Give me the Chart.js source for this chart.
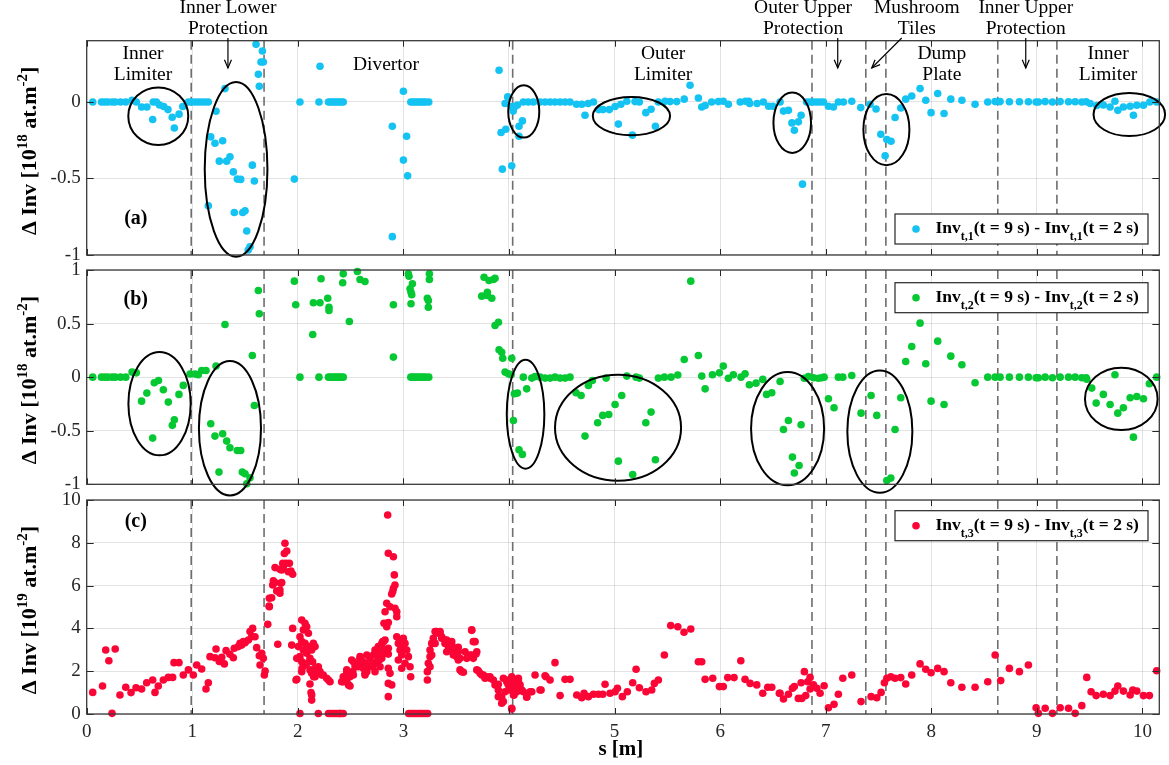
<!DOCTYPE html>
<html><head><meta charset="utf-8">
<script src="https://cdn.jsdelivr.net/npm/chart.js@4.4.1/dist/chart.umd.min.js"></script>
<style>
html,body{margin:0;padding:0;background:#fff;}
#wrap{position:relative;width:1169px;height:765px;background:#fff;overflow:hidden;}
canvas{position:absolute;left:0;top:0;}
</style></head><body>
<div id="wrap">
<canvas id="cA" width="1169" height="765"></canvas>
<canvas id="cB" width="1169" height="765"></canvas>
<canvas id="cC" width="1169" height="765"></canvas>
</div>
<script>
// ---------------- DATA ----------------
const S_MAX = 10.16;
const xTicks = [0,1,2,3,4,5,6,7,8,9,10];
const yTicksA = [-1,-0.5,0];
const yTicksB = [-1,-0.5,0,0.5,1];
const yTicksC = [0,2,4,6,8,10];
// component boundaries (s in m), dashed lines
const boundaries = [0.99,1.68,4.035,6.87,7.38,7.57,8.63,9.19];

// Panel (a): Inv_t,1(9 s) - Inv_t,1(2 s)  [s (m), 1e18 at/m2]
const inv1 = [[0.057,0],[0.14,0],[0.17,0],[0.2,0],[0.24,0],[0.27,0],[0.32,0],[0.37,0],[0.43,0.01],[0.47,0],
[0.52,-0.033],[0.57,-0.033],[0.63,0],[0.66,0],[0.625,-0.115],[0.69,-0.02],[0.73,-0.03],[0.77,-0.05],[0.81,-0.1],[0.83,-0.17],[0.875,-0.08],[0.91,-0.03],
[0.963,0],[0.995,0],[1.026,0],[1.057,0],[1.089,0],[1.12,0],[1.152,0],
[1.225,-0.061],[1.31,0.087],[1.175,-0.228],[1.215,-0.27],[1.288,-0.254],[1.256,-0.387],[1.326,-0.387],[1.357,-0.358],[1.389,-0.457],[1.427,-0.504],[1.459,-0.506],[1.569,-0.413],[1.588,-0.517],[1.152,-0.678],[1.398,-0.722],[1.478,-0.722],[1.5,-0.711],[1.516,-0.843],[1.547,-0.946],[1.53,-0.967],
[1.604,0.376],[1.664,0.333],[1.651,0.261],[1.673,0.261],[1.626,0.181],[1.635,0.102],
[1.967,-0.504],[2.02,0],[2.2,0],[2.21,0.233],[2.29,0],[2.31,0],[2.33,0],[2.35,0],[2.37,0],[2.39,0],[2.41,0],[2.43,0],
[2.895,-0.159],[2.895,-0.88],[3.0,0.07],[3.03,-0.224],[3.0,-0.38],[3.04,-0.483],
[3.07,0],[3.09,0],[3.11,0],[3.13,0],[3.15,0],[3.17,0],[3.19,0],[3.21,0],[3.24,0],
[3.906,0.207],[3.988,0.033],[3.963,-0.01],[4.026,-0.03],[4.057,-0.03],[4.08,-0.02],[4.04,-0.06],[4.127,-0.124],[4.095,-0.159],[4.095,-0.224],[3.925,-0.2],[3.97,-0.178],[3.937,-0.439],[4.026,-0.417],
[4.136,0],[4.183,0],[4.231,0],[4.294,0],[4.342,0],[4.389,0],[4.436,0],[4.484,0],[4.531,0],[4.578,0],
[4.64,-0.015],[4.69,-0.015],[4.72,-0.087],[4.75,-0.01],[4.8,0],[4.85,-0.05],[4.89,-0.05],[4.95,-0.05],[5.005,-0.03],[5.06,-0.015],[5.116,0.004],[5.194,0.002],[5.235,0],[5.036,-0.145],[5.169,-0.217],[5.296,-0.07],[5.346,-0.048],[5.387,-0.159],
[5.415,0],[5.478,0.004],[5.526,0.002],[5.589,0.002],[5.66,0.018],[5.715,0.109],[5.794,0.026],[5.826,-0.033],[5.858,-0.023],[5.92,0],[5.983,0.002],[6.03,0.004],[6.078,-0.015],[6.19,0],[6.24,0.004],[6.27,0.004],[6.28,-0.01],[6.35,-0.01],[6.41,0],[6.46,-0.028],[6.5,-0.028],
[6.568,0],[6.6,-0.06],[6.647,-0.055],[6.68,-0.137],[6.703,-0.185],[6.741,-0.13],[6.767,-0.087],[6.78,-0.537],
[6.82,0],[6.852,0],[6.884,0],[6.916,0],[6.947,0],[6.979,0],[7.026,-0.028],[7.073,-0.033],[7.12,0],[7.168,0],[7.247,0.004],[7.332,-0.037],[7.42,-0.015],[7.477,-0.046],[7.522,-0.211],[7.579,-0.245],[7.619,-0.257],[7.563,-0.352],[7.657,-0.102],[7.711,-0.04],[7.758,0.018],[7.815,0.039],[7.894,0.087],[7.948,0.011],[7.998,-0.07],[8.061,0.055],[8.121,-0.076],[8.185,0.018],[8.29,0.011],[8.415,-0.015],
[8.535,0],[8.605,0.002],[8.652,0.002],[8.74,0.001],[8.835,0.001],[8.92,0.001],[8.993,0],[9.015,0],[9.079,0.002],[9.148,0],[9.221,0.002],[9.3,0.001],[9.363,0.001],[9.426,0],[9.467,0.001],[9.505,-0.01],
[9.568,-0.023],[9.63,-0.02],[9.694,-0.033],[9.74,0.004],[9.767,-0.055],[9.82,-0.033],[9.884,-0.028],[9.915,-0.087],[9.947,-0.022],[10.01,-0.022],[10.07,0],[10.135,0]];

// Panel (b): Inv_t,2(9 s) - Inv_t,2(2 s)  [1e18 at/m2]
const inv2 = [[0.057,0],[0.14,0],[0.17,0],[0.2,0],[0.24,0],[0.27,0],[0.32,0],[0.37,0],[0.43,0.047],[0.47,0.04],[0.52,-0.224],[0.57,-0.149],[0.625,-0.569],[0.64,-0.052],[0.68,-0.031],[0.726,-0.118],[0.773,-0.233],[0.811,-0.45],[0.83,-0.398],[0.874,-0.161],[0.915,-0.077],
[0.979,0.03],[1.026,0.03],[1.057,0.022],[1.089,0.062],[1.13,0.062],[1.225,0.103],[1.31,0.492],[1.175,-0.435],[1.215,-0.55],[1.288,-0.528],[1.326,-0.597],[1.357,-0.659],[1.427,-0.684],[1.459,-0.684],[1.253,-0.886],[1.474,-0.886],[1.5,-0.902],[1.547,-0.94],[1.516,-0.995],[1.569,0.202],[1.588,-0.264],[1.626,0.809],[1.635,0.591],
[1.967,0.896],[1.98,0.675],[2.02,0],[2.141,0.398],[2.147,0.694],[2.21,0.694],[2.2,0],[2.22,0.918],[2.283,0.737],[2.295,0.653],[2.295,0.622],[2.29,0],[2.31,0],[2.33,0],[2.35,0],[2.37,0],[2.39,0],[2.41,0],[2.43,0],[2.43,0.964],[2.425,0.881],[2.488,0.52],[2.564,0.986],[2.589,0.911],[2.636,0.893],
[2.905,0.675],[2.905,0.187],[3.047,0.964],[3.053,0.942],[3.085,0.871],[3.063,0.824],[3.072,0.793],[3.079,0.769],[3.072,0.685],[3.07,0],[3.09,0],[3.11,0],[3.13,0],[3.15,0],[3.17,0],[3.19,0],[3.21,0],[3.24,0],[3.246,0.964],[3.246,0.911],[3.227,0.737],[3.236,0.716],[3.236,0.653],
[3.764,0.933],[3.811,0.902],[3.852,0.911],[3.868,0.923],[3.795,0.793],[3.742,0.756],[3.795,0.762],[3.837,0.737],[3.868,0.482],[3.9,0.513],[3.906,0.256],[3.931,0.233],[3.941,0.177],[4.026,0.177],[3.963,0.047],[3.994,0.031],[4.02,0.022],[4.051,-0.155],[4.08,-0.149],[4.042,-0.404],[4.095,-0.677],[4.127,-0.721],[4.168,-0.109],
[4.136,0],[4.216,-0.009],[4.247,0.005],[4.294,0],[4.342,-0.009],[4.389,-0.009],[4.436,0],[4.484,-0.009],[4.531,-0.009],[4.578,0],[4.635,-0.146],[4.683,-0.171],[4.72,-0.55],[4.752,-0.077],[4.79,-0.031],[4.84,-0.426],[4.888,-0.357],[4.945,-0.348],[4.92,-0.009],[5.005,-0.255],[5.068,-0.171],[5.036,-0.784],[5.116,0.01],[5.204,0],[5.235,-0.009],[5.172,-0.908],[5.296,-0.426],[5.346,-0.326],[5.387,-0.771],
[5.415,-0.009],[5.472,0],[5.535,0],[5.599,0.02],[5.66,0.165],[5.722,0.896],[5.794,0.202],[5.826,0.01],[5.858,-0.109],[5.927,0.022],[5.993,0.04],[6.03,0.103],[6.078,-0.01],[6.125,0.022],[6.198,0],[6.236,0.031],[6.277,-0.071],[6.34,-0.056],[6.404,-0.021],[6.44,-0.161],[6.489,-0.146],
[6.568,-0.04],[6.6,-0.488],[6.647,-0.404],[6.685,-0.746],[6.703,-0.895],[6.748,-0.824],[6.767,-0.444],[6.798,-0.01],[6.836,0.005],[6.884,-0.005],[6.931,-0.01],[6.963,-0.005],[6.985,0],[7.026,-0.202],[7.079,-0.286],[7.12,0],[7.162,0],[7.247,0.016],[7.335,-0.336],[7.43,-0.171],[7.484,-0.357],[7.579,-0.964],[7.617,-0.942],[7.657,-0.488],[7.711,-0.192],
[7.758,0.146],[7.815,0.286],[7.894,0.504],[7.948,0.125],[7.998,-0.224],[8.061,0.336],[8.121,-0.255],[8.185,0.196],[8.29,0.116],[8.415,-0.052],
[8.535,0],[8.605,0],[8.652,0],[8.74,0],[8.835,0],[8.92,0],[8.993,-0.005],[9.015,-0.005],[9.079,0],[9.148,-0.005],[9.221,0],[9.3,0],[9.363,0],[9.426,-0.005],[9.467,-0.005],[9.473,-0.02],[9.52,-0.102],[9.562,-0.242],[9.63,-0.161],[9.694,-0.255],[9.74,0.022],[9.767,-0.336],[9.82,-0.286],[9.884,-0.192],[9.947,-0.18],[10.01,-0.202],[9.915,-0.56],[10.066,-0.062],[10.135,0]];

// Panel (c): Inv_t,3(9 s) - Inv_t,3(2 s)  [1e19 at/m2]
const inv3 = [[0.057,1.01],[0.15,1.31],[0.18,2.99],[0.21,2.49],[0.24,0.03],[0.27,3.04],[0.315,0.89],[0.37,1.25],[0.42,1.0],[0.467,1.23],[0.52,1.17],[0.568,1.46],[0.625,1.59],[0.647,1.01],[0.678,1.31],[0.726,1.59],[0.773,1.71],[0.814,1.71],[0.827,2.4],[0.874,2.4],[0.915,1.82],[0.963,2.06],[1.01,1.82],[1.042,2.29],[1.089,2.1],[1.13,1.17],[1.152,1.46],[1.168,2.68],[1.225,3.04],[1.215,2.63],[1.256,2.45],[1.304,2.34],[1.279,2.65],[1.32,2.96],[1.357,2.79],[1.389,2.63],
[1.398,3.07],[1.436,3.15],[1.468,3.22],[1.5,3.33],[1.531,3.46],[1.563,3.61],[1.547,3.85],[1.572,4.0],[1.594,3.61],[1.61,3.1],[1.635,2.72],[1.642,2.29],[1.658,2.84],[1.673,2.6],[1.683,1.82],[1.69,2.01],[1.452,3.3],[1.484,3.38],
[1.715,4.19],[1.73,5.01],[1.752,5.43],[1.73,5.41],[1.762,6.03],[1.784,6.14],[1.784,6.84],[1.8,5.75],[1.81,3.26],[1.83,5.79],[1.847,6.73],[1.863,6.88],[1.84,6.11],[1.878,7.98],[1.872,7.5],[1.895,7.62],[1.92,7.04],[1.935,6.68],[1.888,7.04],[1.951,6.53],[1.951,4.0],[1.942,3.22],[1.983,1.59],
[1.857,7.04],[1.83,6.76],[1.91,6.65],[1.768,6.23],[1.847,6.14],[1.83,5.64],[1.728,5.05],[1.99,1.62],[2.02,0.02],[2.194,0.02],
[2.29,0.02],[2.31,0.02],[2.33,0.02],[2.35,0.02],[2.37,0.02],[2.39,0.02],[2.41,0.02],[2.43,0.02],
[2.037,4.39],[2.068,4.24],[2.084,4.08],[2.052,3.93],[2.1,3.77],[2.02,3.61],[2.037,3.38],[2.068,3.3],[2.1,3.15],[2.005,3.15],[2.052,2.99],[2.084,2.84],[2.02,2.68],[1.99,2.6],[2.115,2.6],[2.037,2.44],[2.068,2.29],[2.147,3.3],[2.163,3.15],[2.131,2.99],[2.084,2.37],[2.115,2.06],[2.131,1.9],[2.163,1.74],[2.194,2.21],[2.21,1.98],[2.241,1.82],[2.273,1.67],[2.305,1.51],[2.115,1.4],[2.131,0.89],[2.131,0.65],[2.415,1.51],[2.43,1.74],[2.463,1.98],[2.037,1.98],[2.04,2.14],[2.14,2.44],[2.163,2.13],[2.15,1.74],[2.18,1.98],[2.227,1.82],[2.29,1.59],[2.125,1.0],
[2.463,1.51],[2.48,1.36],[2.494,1.74],[2.52,1.98],[2.542,2.21],[2.526,2.44],[2.573,2.29],[2.589,2.6],[2.62,2.14],[2.636,2.37],[2.653,1.98],[2.684,2.21],[2.715,2.29],[2.747,2.44],[2.762,2.68],[2.795,2.6],[2.81,2.84],[2.835,2.94],[2.857,3.07],[2.842,2.84],[2.779,2.21],[2.731,1.98],[2.636,1.82],[2.804,3.38],
[2.4,0.02],[2.43,1.51],[2.494,1.31],[2.463,2.06],[2.51,2.52],[2.542,2.37],[2.573,2.21],[2.589,2.68],[2.62,2.44],[2.636,1.9],[2.653,2.76],[2.684,2.6],[2.715,2.76],[2.731,2.99],[2.747,2.84],[2.762,3.15],[2.779,2.99],[2.795,3.3],[2.81,3.38],[2.826,3.46],[2.804,3.02],[2.772,2.52],[2.7,2.37],[2.636,2.21],[2.526,1.82],
[2.857,2.8],[2.857,2.14],[2.873,1.9],[2.857,1.43],[2.889,1.36],[2.857,0.81],[2.851,9.3],[2.857,7.51],[2.905,7.35],[2.914,6.5],[2.92,6.03],[2.905,5.87],[2.899,5.72],[2.889,5.61],[2.842,5.17],[2.873,5.01],[2.92,4.94],[2.937,4.78],[2.937,4.55],[2.826,4.78],[2.816,4.24],[2.842,4.08],[2.857,4.27],
[2.937,3.61],[2.968,3.46],[2.999,3.54],[2.952,3.3],[2.984,3.15],[3.015,3.3],[2.968,2.99],[3.031,2.99],[2.984,2.76],[3.047,2.68],[2.952,2.52],[3.015,2.37],[2.984,2.14],[3.063,2.21],[3.069,1.74],
[3.05,0.02],[3.07,0.02],[3.09,0.02],[3.11,0.02],[3.13,0.02],[3.15,0.02],[3.17,0.02],[3.19,0.02],[3.21,0.02],[3.23,0.02],
[3.227,1.59],[3.227,1.98],[3.236,2.37],[3.252,2.68],[3.252,2.99],[3.268,3.3],[3.283,3.54],[3.316,3.85],[3.347,3.77],[3.3,3.3],[3.363,3.54],[3.394,3.3],[3.426,3.15],[3.268,2.76],[3.252,2.21],
[3.3,3.85],[3.331,3.77],[3.363,3.61],[3.394,3.46],[3.426,3.38],[3.458,3.22],[3.489,3.07],[3.52,3.12],[3.505,2.84],[3.442,3.07],[3.41,2.91],[3.473,2.76],[3.536,2.6],[3.584,2.91],[3.6,2.6],[3.631,2.76],[3.647,3.91],[3.679,3.38],[3.695,2.91],[3.662,2.6],[3.536,2.06],[3.568,1.95],[3.695,2.06],[3.726,1.9],[3.757,1.82],[3.789,1.74],[3.82,1.67],[3.852,1.59],[3.868,1.36],[3.899,1.39],[3.899,0.81],[3.931,0.5],[3.947,1.67],[3.979,1.51],[3.994,1.39],[4.01,1.2],[4.026,1.74],[4.042,1.59],[4.057,1.36],[4.073,1.04],[4.026,0.23],[4.048,0.89],[4.089,1.67],[4.105,1.36],[4.136,1.04],[4.168,0.78],[4.216,1.04],[4.247,1.82],[4.304,1.12],[4.342,1.79],[4.389,1.59],[4.436,2.4],[4.484,0.86],[4.531,1.62],[4.578,1.62],
[3.347,3.85],[3.41,3.46],[3.458,3.38],[3.442,3.12],[3.489,2.99],[3.52,2.91],[3.473,2.84],[3.505,2.68],[3.52,2.52],[3.615,2.68],[3.647,2.76],[3.662,3.38],[3.688,2.8],[3.647,3.93],[3.552,1.98],[3.71,2.02],[3.742,1.82],[3.773,1.67],[3.82,1.74],[3.884,1.36],[3.899,1.12],[3.931,0.81],[3.947,0.58],[3.963,1.04],[3.979,1.59],[3.994,1.36],[4.01,1.12],[4.042,0.89],[4.073,1.12],[4.089,1.59],[4.121,1.12],[4.168,0.81],[4.2,1.04],[4.294,1.12],[4.351,1.74],[4.026,0.27],
[4.642,0.89],[4.689,0.76],[4.711,0.97],[4.752,0.81],[4.8,0.92],[4.847,0.92],[4.888,0.92],[4.91,1.39],[4.957,0.97],[5.005,1.04],[5.027,1.2],[5.074,0.81],[5.121,1.04],[5.172,1.46],[5.204,2.09],[5.235,1.23],[5.298,1.04],[5.352,1.12],[5.377,1.43],[5.415,1.59],[5.472,2.76],[5.532,4.13],[5.599,4.08],[5.658,3.82],[5.722,3.97],[5.794,2.44],[5.826,2.44],[5.858,1.62],[5.93,1.67],[5.993,1.28],[6.03,1.28],[6.072,1.7],[6.132,1.7],[6.196,2.49],[6.236,1.62],[6.284,1.43],[6.347,1.36],[6.404,0.97],[6.451,1.25],[6.489,1.25],[6.561,0.97],
[6.568,0.97],[6.6,0.7],[6.647,0.92],[6.685,1.2],[6.703,1.28],[6.741,0.73],[6.773,0.73],[6.767,1.46],[6.798,1.98],[6.811,0.86],[6.83,1.51],[6.852,1.71],[6.852,1.17],[6.884,1.36],[6.916,1.2],[6.947,0.97],[6.985,1.32],[7.026,0.29],[7.079,0.45],[7.12,0.92],[7.162,1.67],[7.247,1.82],[7.335,0.58],[7.43,0.81],[7.484,0.76],[7.525,1.01],[7.556,1.46],[7.579,1.67],[7.617,1.74],[7.657,1.67],[7.711,1.7],[7.758,1.4],[7.815,1.82],[7.894,2.34],[7.948,2.09],[7.998,1.93],[8.061,2.13],[8.121,1.98],[8.185,1.46],[8.29,1.25],[8.415,1.25],[8.535,1.51],[8.605,2.76],[8.658,1.56],[8.74,2.13],[8.835,1.98],[8.92,2.29],
[8.993,0.29],[9.015,0.03],[9.079,0.27],[9.148,0.03],[9.221,0.29],[9.3,0.27],[9.363,0.03],[9.426,0.39],[9.473,1.71],[9.514,1.04],[9.562,0.86],[9.63,0.92],[9.694,0.86],[9.74,1.07],[9.767,1.31],[9.82,1.07],[9.884,0.89],[9.909,1.12],[9.947,1.07],[10.01,0.86],[10.066,0.86],[10.135,2.02]];

// ellipse annotations [centre s, centre value, half-width (m), half-height (value units)]
const ellipsesA = [[0.678,-0.093,0.284,0.188],[1.415,-0.44,0.297,0.571],[4.14,-0.062,0.147,0.171],[5.16,-0.092,0.366,0.125],[6.683,-0.136,0.178,0.197],[7.575,-0.181,0.218,0.232],[9.876,-0.082,0.339,0.141]];
const ellipsesB = [[0.69,-0.248,0.295,0.482],[1.357,-0.477,0.294,0.627],[4.157,-0.346,0.178,0.508],[5.033,-0.472,0.597,0.494],[6.639,-0.481,0.346,0.529],[7.513,-0.508,0.308,0.571],[9.80,-0.203,0.344,0.291]];

// component labels: [lines, centre s, baseline y of first line (px)]
const topLabels = [
  [["Inner Lower","Protection"],1.338,13],
  [["Inner","Limiter"],0.533,59],
  [["Divertor"],2.835,70],
  [["Outer","Limiter"],5.46,59],
  [["Outer Upper","Protection"],6.786,13],
  [["Mushroom","Tiles"],7.863,13],
  [["Dump","Plate"],8.1,59],
  [["Inner Upper","Protection"],8.895,13],
  [["Inner","Limiter"],9.675,59]
];
// arrows: [s start, s end]
const arrows = [[1.338,1.338],[7.114,7.114],[7.72,7.436],[8.895,8.895]];

// ---------------- STYLE / DRAW ----------------
const FONT = "'Liberation Serif','Times New Roman',serif";
const TXT = '#262626';
const GRID = 'rgba(38,38,38,0.13)';

function fnt(size,bold){ return (bold?'bold ':'')+size+'px '+FONT; }
function richWidth(ctx,parts,size,bold){
  let w=0; parts.forEach(p=>{ ctx.font=fnt((p.sup||p.sub)?Math.round(size*0.7):size,bold); w+=ctx.measureText(p.t).width; }); return w;
}
function drawRich(ctx,parts,x,y,size,bold,align){
  const w=richWidth(ctx,parts,size,bold);
  let cx = align==='center' ? x-w/2 : x;
  ctx.textAlign='left'; ctx.textBaseline='alphabetic';
  parts.forEach(p=>{
    const s=(p.sup||p.sub)?Math.round(size*0.7):size;
    ctx.font=fnt(s,bold);
    const dy = p.sup ? -size*0.42 : (p.sub ? size*0.42 : 0);
    ctx.fillText(p.t,cx,y+dy);
    cx+=ctx.measureText(p.t).width;
  });
}

function panelPlugin(cfg){
  return {
    id:'panel'+cfg.tag,
    beforeDatasetsDraw(chart){
      const {ctx,chartArea:a,scales:{x}}=chart;
      ctx.save();
      ctx.strokeStyle='#6e6e6e'; ctx.lineWidth=1.6; ctx.setLineDash([9,5]);
      boundaries.forEach(b=>{ const px=x.getPixelForValue(b); ctx.beginPath(); ctx.moveTo(px,a.top); ctx.lineTo(px,a.bottom); ctx.stroke(); });
      ctx.restore();
    },
    afterDatasetsDraw(chart){
      const {ctx,scales:{x,y}}=chart;
      ctx.save(); ctx.strokeStyle='#000'; ctx.lineWidth=2;
      (cfg.ellipses||[]).forEach(e=>{
        const cx=x.getPixelForValue(e[0]), cy=y.getPixelForValue(e[1]);
        const rx=Math.abs(x.getPixelForValue(e[0]+e[2])-cx), ry=Math.abs(y.getPixelForValue(e[1]+e[3])-cy);
        ctx.beginPath(); ctx.ellipse(cx,cy,rx,ry,0,0,Math.PI*2); ctx.stroke();
      });
      ctx.restore();
    },
    afterDraw(chart){
      const {ctx,chartArea:a,scales:{x,y}}=chart;
      ctx.save();
      // inward ticks
      ctx.strokeStyle=TXT; ctx.lineWidth=1;
      xTicks.forEach(v=>{ const px=Math.round(x.getPixelForValue(v))+0.5;
        ctx.beginPath(); ctx.moveTo(px,a.bottom); ctx.lineTo(px,a.bottom-6); ctx.moveTo(px,a.top); ctx.lineTo(px,a.top+6); ctx.stroke(); });
      cfg.yTicks.forEach(v=>{ const py=Math.round(y.getPixelForValue(v))+0.5;
        ctx.beginPath(); ctx.moveTo(a.left,py); ctx.lineTo(a.left+7,py); ctx.moveTo(a.right,py); ctx.lineTo(a.right-7,py); ctx.stroke(); });
      // box
      ctx.strokeStyle='#3a3a3a'; ctx.lineWidth=1.3;
      ctx.strokeRect(a.left,a.top,a.right-a.left,a.bottom-a.top);
      // panel label
      ctx.fillStyle='#000'; ctx.font=fnt(20,true); ctx.textAlign='center'; ctx.textBaseline='alphabetic';
      ctx.fillText('('+cfg.tag+')', x.getPixelForValue(0.465), cfg.labelY);
      // y title (rotated)
      ctx.save();
      ctx.translate(36,(a.top+a.bottom)/2+3); ctx.rotate(-Math.PI/2);
      ctx.fillStyle='#000';
      drawRich(ctx,[{t:'Δ Inv [10'},{t:cfg.exp,sup:true},{t:' at.m'},{t:'-2',sup:true},{t:']'}],0,0,22,true,'center');
      ctx.restore();
      // legend
      const lw=253, lh=30;
      const lx=a.right-11.3-lw;
      const ly= cfg.legendPos==='se' ? a.bottom-11-lh : a.top+cfg.legendTop;
      ctx.fillStyle='#fff'; ctx.fillRect(lx,ly,lw,lh);
      ctx.strokeStyle='#262626'; ctx.lineWidth=1.2; ctx.strokeRect(lx,ly,lw,lh);
      ctx.fillStyle=cfg.color; ctx.beginPath(); ctx.arc(lx+21,ly+lh/2,3.8,0,Math.PI*2); ctx.fill();
      ctx.fillStyle='#000';
      drawRich(ctx,[{t:'Inv'},{t:'t,'+cfg.n,sub:true},{t:'(t = 9 s) - Inv'},{t:'t,'+cfg.n,sub:true},{t:'(t = 2 s)'}],lx+40.5,ly+lh/2+4,17.5,true,'left');
      // x title
      if(cfg.showX){
        ctx.font=fnt(21,true); ctx.textAlign='center'; ctx.textBaseline='alphabetic'; ctx.fillStyle='#000';
        ctx.fillText('s [m]', x.getPixelForValue(5.06), 755);
      }
      // header annotations
      if(cfg.header){
        ctx.fillStyle='#000'; ctx.font=fnt(19.5,false); ctx.textAlign='center'; ctx.textBaseline='alphabetic';
        topLabels.forEach(l=>{ const px=x.getPixelForValue(l[1]); l[0].forEach((t,i)=>ctx.fillText(t,px,l[2]+i*21)); });
        ctx.strokeStyle='#000'; ctx.lineWidth=1.2;
        arrows.forEach(ar=>{
          const x0=x.getPixelForValue(ar[0]), x1=x.getPixelForValue(ar[1]), y0=38, y1=68;
          ctx.beginPath(); ctx.moveTo(x0,y0); ctx.lineTo(x1,y1); ctx.stroke();
          const ang=Math.atan2(y1-y0,x1-x0), L=9, w=0.4;
          ctx.beginPath();
          ctx.moveTo(x1-L*Math.cos(ang-w),y1-L*Math.sin(ang-w)); ctx.lineTo(x1,y1);
          ctx.lineTo(x1-L*Math.cos(ang+w),y1-L*Math.sin(ang+w)); ctx.stroke();
        });
      }
      ctx.restore();
    }
  };
}

function makeChart(id,data,color,yMin,yMax,yTicks,pad,cfg){
  cfg.yTicks=yTicks; cfg.color=color;
  const xH = cfg.xH||0;
  return new Chart(document.getElementById(id),{
    type:'scatter',
    data:{datasets:[{data:data.map(p=>({x:p[0],y:p[1]})),backgroundColor:color,borderWidth:0,pointRadius:3.8,pointHoverRadius:3.8,clip:false}]},
    options:{
      responsive:false,animation:false,events:[],
      layout:{padding:pad},
      plugins:{legend:{display:false},tooltip:{enabled:false}},
      scales:{
        x:{type:'linear',min:0,max:S_MAX,
          afterBuildTicks:s=>{ s.ticks=xTicks.map(v=>({value:v})); },
          afterFit:s=>{ s.height=xH; },
          grid:{color:GRID,drawTicks:false,lineWidth:1},
          border:{display:false},
          ticks:{display:!!cfg.showX,autoSkip:false,font:{family:FONT,size:19},color:TXT,padding:7,maxRotation:0,callback:v=>String(v)}},
        y:{type:'linear',min:yMin,max:yMax,
          afterBuildTicks:s=>{ s.ticks=yTicks.map(v=>({value:v})); },
          afterFit:s=>{ s.width=86.7; },
          grid:{color:GRID,drawTicks:false,lineWidth:1},
          border:{display:false},
          ticks:{font:{family:FONT,size:19},color:TXT,padding:6,callback:v=>String(v)}}
      }
    },
    plugins:[panelPlugin(cfg)]
  });
}

makeChart('cA',inv1,'#14C3F2',-1,0.4,yTicksA,{top:40.7,bottom:510,left:0,right:9.7},
  {tag:'a',n:'1',exp:'18',ellipses:ellipsesA,labelY:224,legendPos:'se',header:true});
makeChart('cB',inv2,'#05C832',-1,1,yTicksB,{top:270,bottom:280.7,left:0,right:9.7},
  {tag:'b',n:'2',exp:'18',ellipses:ellipsesB,labelY:305,legendPos:'ne',legendTop:12.7});
makeChart('cC',inv3,'#FA0535',0,10,yTicksC,{top:500,bottom:0,left:0,right:9.7},
  {tag:'c',n:'3',exp:'19',ellipses:[],labelY:527,legendPos:'ne',legendTop:10.7,showX:true,xH:51});
</script>
</body></html>
